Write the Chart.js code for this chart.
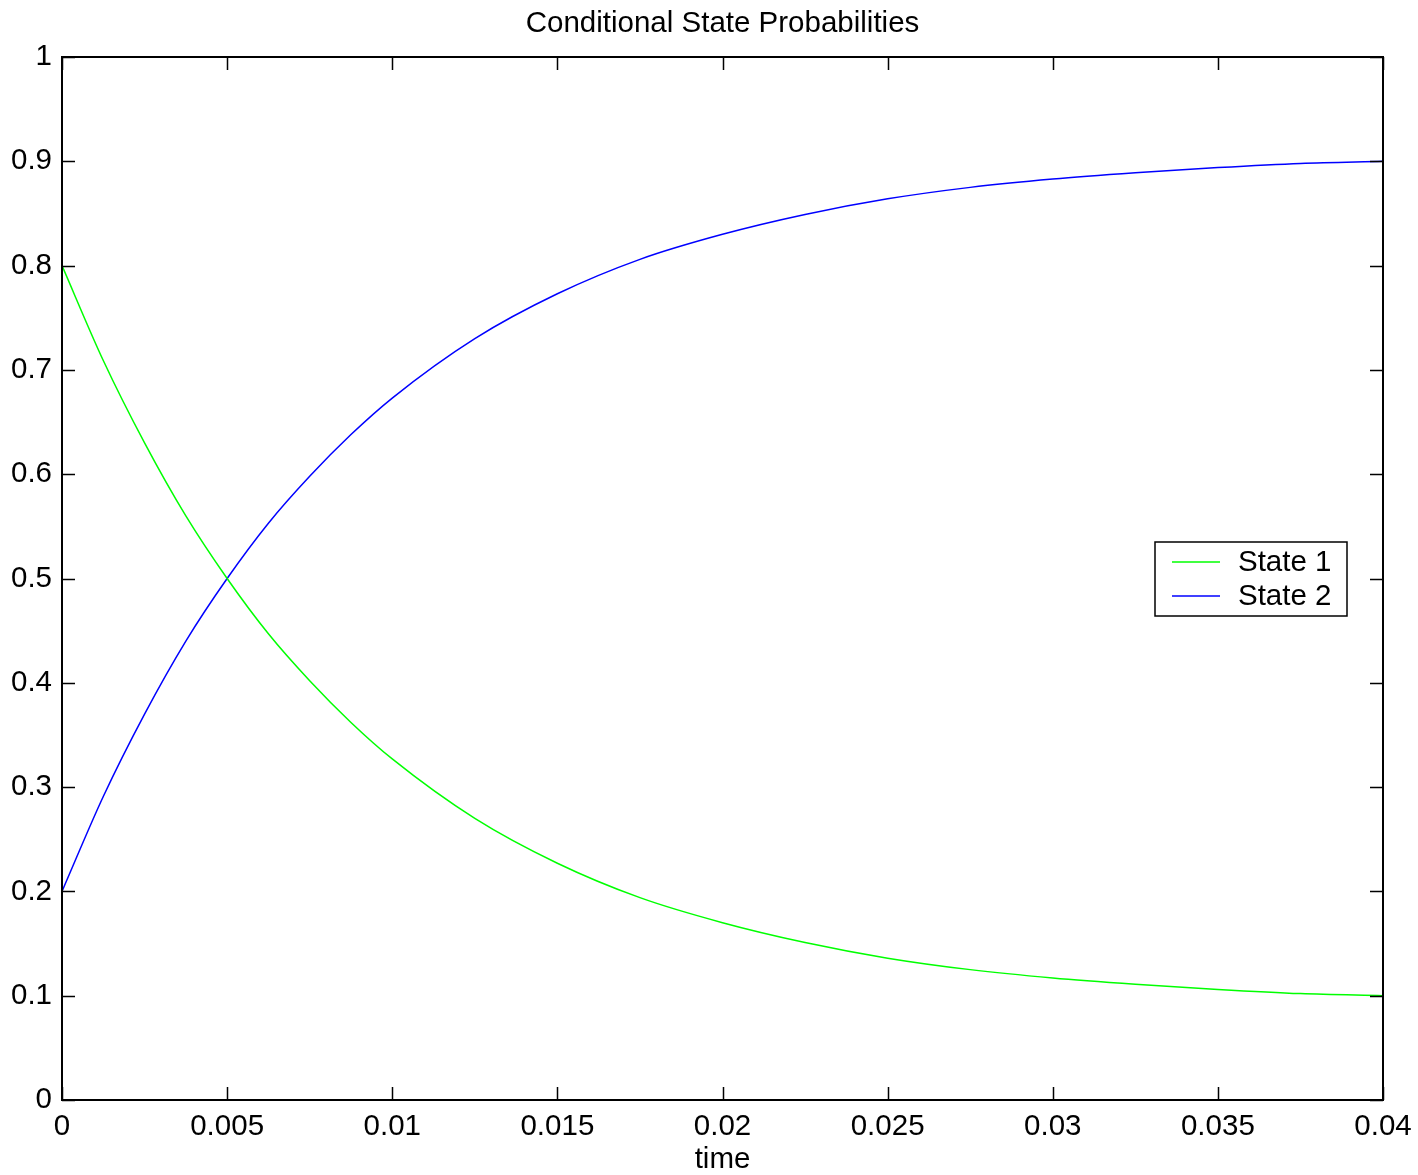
<!DOCTYPE html>
<html>
<head>
<meta charset="utf-8">
<title>Conditional State Probabilities</title>
<script src="https://cdn.jsdelivr.net/npm/chart.js@4.4.1/dist/chart.umd.min.js"></script>
<style>
  html, body { margin: 0; padding: 0; background: #fff; }
  #wrap { width: 1418px; height: 1175px; }
</style>
</head>
<body>
<div id="wrap"><canvas id="chart" width="1418" height="1175"></canvas></div>
<script>
"use strict";

// ── Data ───────────────────────────────────────────────────────────── //
const TIME = [0, 0.00125, 0.0025, 0.00375, 0.005, 0.00625, 0.0075, 0.00875, 0.01,
              0.0125, 0.015, 0.0175, 0.02, 0.0225, 0.025, 0.0275, 0.03,
              0.0325, 0.035, 0.0375, 0.04];
const STATE1 = [0.800, 0.709, 0.630, 0.560, 0.500, 0.447, 0.402, 0.362, 0.327,
                0.270, 0.227, 0.194, 0.170, 0.151, 0.136, 0.125, 0.117,
                0.111, 0.106, 0.102, 0.100];
const STATE2 = [0.200, 0.291, 0.370, 0.440, 0.500, 0.553, 0.598, 0.638, 0.673,
                0.730, 0.773, 0.806, 0.830, 0.849, 0.864, 0.875, 0.883,
                0.889, 0.894, 0.898, 0.900];
const SERIES_LABELS = ["State 1", "State 2"];

const X_TICKS = [0, 0.005, 0.01, 0.015, 0.02, 0.025, 0.03, 0.035, 0.04];
const X_TICK_LABELS = ["0", "0.005", "0.01", "0.015", "0.02", "0.025", "0.03", "0.035", "0.04"];
const Y_TICKS = [0, 0.1, 0.2, 0.3, 0.4, 0.5, 0.6, 0.7, 0.8, 0.9, 1];
const Y_TICK_LABELS = ["0", "0.1", "0.2", "0.3", "0.4", "0.5", "0.6", "0.7", "0.8", "0.9", "1"];

const TITLE  = "Conditional State Probabilities";
const XLABEL = "time";

// ── Style ──────────────────────────────────────────────────────────── //
const FONT      = "'Liberation Sans', Arial, Helvetica, sans-serif";
const FONT_SIZE = 29.5;
const TICK_LEN  = 13;

const toPoints = ys => TIME.map((t, i) => ({ x: t, y: ys[i] }));

// ── Plugins: white page, title, boxed axes with inward ticks, legend ─ //
const axesBox = {
  id: "axesBox",
  beforeDraw(chart) {
    const { ctx, width, height } = chart;
    ctx.save();
    ctx.fillStyle = "#fff";
    ctx.fillRect(0, 0, width, height);
    ctx.restore();
  },
  afterDatasetsDraw(chart) {
    const { ctx, chartArea: a, scales: { x, y } } = chart;
    ctx.save();
    ctx.strokeStyle = "#000";
    ctx.lineWidth = 1.5;
    ctx.beginPath();
    x.ticks.forEach(t => {
      const px = Math.round(x.getPixelForValue(t.value)) + 0.5;
      ctx.moveTo(px, a.bottom); ctx.lineTo(px, a.bottom - TICK_LEN);
      ctx.moveTo(px, a.top);    ctx.lineTo(px, a.top + TICK_LEN);
    });
    y.ticks.forEach(t => {
      const py = Math.round(y.getPixelForValue(t.value)) + 0.5;
      ctx.moveTo(a.left, py);  ctx.lineTo(a.left + TICK_LEN, py);
      ctx.moveTo(a.right, py); ctx.lineTo(a.right - TICK_LEN, py);
    });
    ctx.stroke();
    ctx.lineWidth = 2;
    ctx.strokeRect(a.left, a.top, a.right - a.left, a.bottom - a.top);

    // title centred over the axes box
    ctx.fillStyle = "#000";
    ctx.font = `${FONT_SIZE}px ${FONT}`;
    ctx.textAlign = "center";
    ctx.textBaseline = "middle";
    ctx.fillText(TITLE, (a.left + a.right) / 2, 24);
    ctx.restore();
  },
};

const insetLegend = {
  id: "insetLegend",
  afterDraw(chart, _args, opts) {
    const { ctx } = chart;
    const { left, top, width, height, rowGap, lineLen, lineGap } = opts;
    ctx.save();
    ctx.fillStyle = "#fff";
    ctx.fillRect(left, top, width, height);
    ctx.strokeStyle = "#000";
    ctx.lineWidth = 1.5;
    ctx.strokeRect(left, top, width, height);

    ctx.font = `${FONT_SIZE}px ${FONT}`;
    ctx.textBaseline = "middle";
    ctx.textAlign = "left";
    chart.data.datasets.forEach((ds, i) => {
      const ly = top + 20 + i * rowGap;
      ctx.strokeStyle = ds.borderColor;
      ctx.lineWidth = 1.5;
      ctx.beginPath();
      ctx.moveTo(left + 17, ly);
      ctx.lineTo(left + 17 + lineLen, ly);
      ctx.stroke();
      ctx.fillStyle = "#000";
      ctx.fillText(ds.label, left + 17 + lineLen + lineGap, ly + 1);
    });
    ctx.restore();
  },
};

// ── Chart ──────────────────────────────────────────────────────────── //
const ctx = document.getElementById("chart").getContext("2d");
new Chart(ctx, {
  type: "line",
  data: {
    datasets: [
      {
        label: SERIES_LABELS[0],
        data: toPoints(STATE1),
        borderColor: "#00ff00",
        borderWidth: 1.5,
        pointRadius: 0,
        fill: false,
        cubicInterpolationMode: "monotone",
      },
      {
        label: SERIES_LABELS[1],
        data: toPoints(STATE2),
        borderColor: "#0000ff",
        borderWidth: 1.5,
        pointRadius: 0,
        fill: false,
        cubicInterpolationMode: "monotone",
      },
    ],
  },
  options: {
    responsive: false,
    devicePixelRatio: 1,
    animation: false,
    events: [],
    layout: { padding: { left: 0, right: 35, top: 57, bottom: 0 } },
    plugins: {
      legend: { display: false },
      tooltip: { enabled: false },
      title: { display: false },
      insetLegend: { left: 1155, top: 542, width: 192, height: 74, rowGap: 34, lineLen: 48, lineGap: 18 },
    },
    scales: {
      x: {
        type: "linear",
        min: 0,
        max: 0.04,
        grid: { display: false, drawTicks: false },
        border: { display: false },
        afterBuildTicks: s => { s.ticks = X_TICKS.map(v => ({ value: v })); },
        afterFit: s => { s.height = 75; },
        ticks: {
          color: "#000",
          // zero padding keeps the last label from shrinking the plot;
          // the tall line box pushes the labels down instead
          padding: 0,
          maxRotation: 0,
          autoSkip: false,
          font: { family: FONT, size: FONT_SIZE, lineHeight: 1.82 },
          callback: (_v, i) => X_TICK_LABELS[i],
        },
        title: {
          display: true,
          text: XLABEL,
          color: "#000",
          font: { family: FONT, size: FONT_SIZE, lineHeight: 1 },
          padding: { top: 0, bottom: 0 },
        },
      },
      y: {
        type: "linear",
        min: 0,
        max: 1,
        grid: { display: false, drawTicks: false },
        border: { display: false },
        afterBuildTicks: s => { s.ticks = Y_TICKS.map(v => ({ value: v })); },
        afterFit: s => { s.width = 62; },
        ticks: {
          color: "#000",
          padding: 10,
          autoSkip: false,
          font: { family: FONT, size: FONT_SIZE, lineHeight: 1.2 },
          callback: (_v, i) => Y_TICK_LABELS[i],
        },
      },
    },
  },
  plugins: [axesBox, insetLegend],
});
</script>
</body>
</html>
